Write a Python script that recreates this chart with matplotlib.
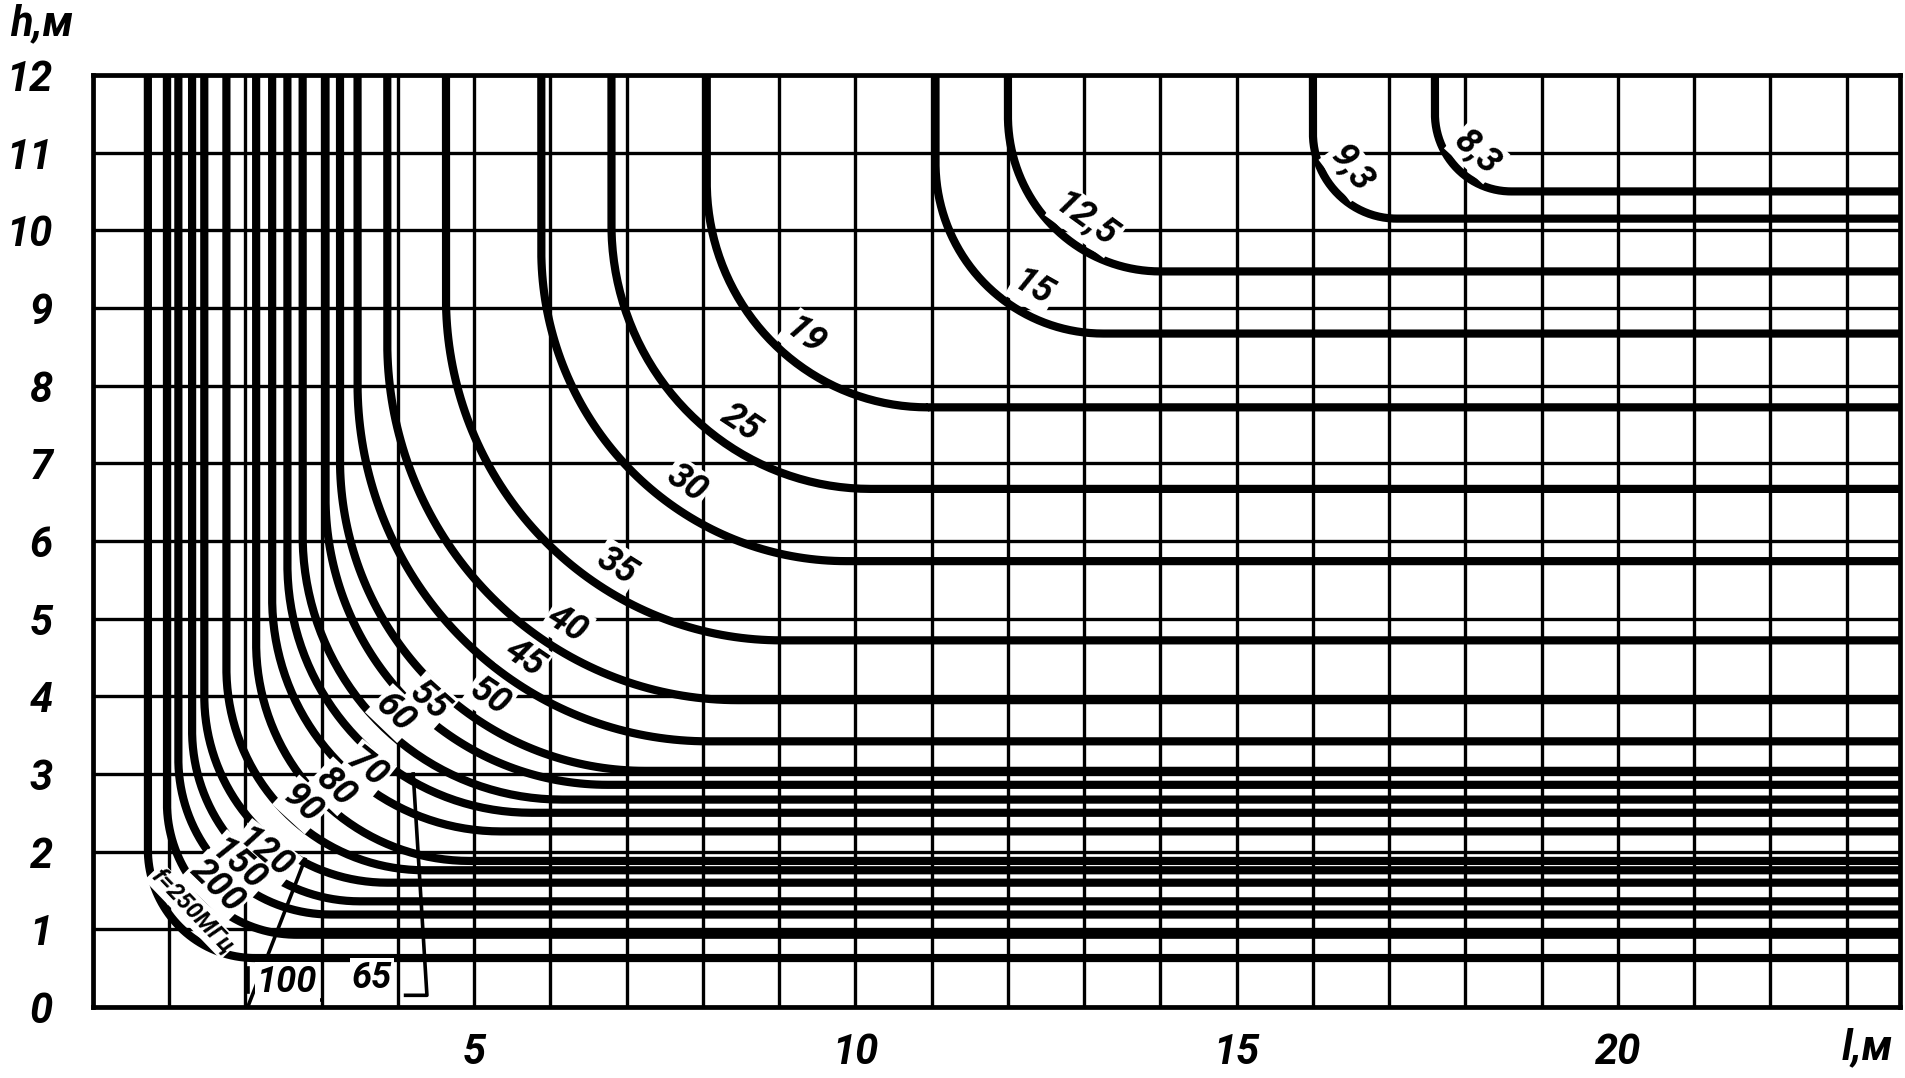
import numpy as np
import matplotlib
matplotlib.use("Agg")
import matplotlib.pyplot as plt

# ── Data ─────────────────────────────────────────────────────────────────────
# one curve per frequency: vertical asymptote l (m), horizontal asymptote h (m),
# bend radius of the rounded corner (m)
freq_labels = ["8,3", "9,3", "12,5", "15", "19", "25", "30", "35", "40", "45", "50",
               "55", "60", "65", "70", "80", "90", "100", "120", "150", "200",
               "f=250МГц"]
l_vert = [17.6, 16.0, 12.0, 11.05, 8.05, 6.80, 5.88, 4.63, 3.86, 3.47, 3.24,
          3.05, 2.75, 2.55, 2.35, 2.14, 1.75, 1.46, 1.30, 1.12, 0.97, 0.72]
h_horiz = [10.50, 10.15, 9.47, 8.67, 7.72, 6.67, 5.74, 4.72, 3.95, 3.42, 3.04,
           2.86, 2.67, 2.50, 2.26, 1.88, 1.76, 1.60, 1.36, 1.19, 0.93, 0.63]
bend_r = [1.0, 1.1, 2.0, 2.2, 2.9, 3.4, 4.0, 4.4, 4.6, 4.6, 4.0,
          3.7, 3.4, 3.2, 3.0, 2.8, 2.6, 2.4, 2.2, 2.0, 1.7, 1.4]

x_ticks = [5, 10, 15, 20]
y_ticks = list(range(0, 13))

# approximate label spots (x, y); None -> label written below the curves
label_pos = [
    (18.16, 11.02), (16.48, 10.78), (13.05, 10.16), (12.34, 9.26),
    (9.31, 8.59), (8.54, 7.57), (7.79, 6.74), (6.95, 5.80),
    (6.28, 5.02), (5.75, 4.62), (5.19, 3.97), (4.30, 3.82),
    (3.90, 3.72), None, (3.56, 3.03), (3.08, 2.74),
    (2.69, 2.55), None, (2.29, 2.01), (1.81, 1.72),
    (1.57, 1.50), (1.30, 1.24),
]
# labels placed under the curves with a leader line
bottom_labels = {"65": (3.66, 0.37), "100": (2.55, 0.32)}

XMAX, YMAX = 23.7, 12.0
FONT = dict(family=["Roboto", "DejaVu Sans"], style="italic", weight="bold")


def curve_path(a, b, r, n=80):
    t = np.linspace(0.0, np.pi / 2, n)
    xs = np.concatenate([np.full(n, a), a + r - r * np.cos(t), np.linspace(a + r, XMAX, n)])
    ys = np.concatenate([np.linspace(YMAX, b + r, n), b + r - r * np.sin(t), np.full(n, b)])
    return xs, ys


def snap_label(i, px, py, cap=0.34):
    """Move a label radially just inside curve i (mid-gap when the gap is narrow)."""
    a, b, r = l_vert[i], h_horiz[i], bend_r[i]
    cx, cy = a + r, b + r
    th = np.arctan2(py - cy, px - cx) % (2 * np.pi)
    th = np.clip(th, np.pi, 1.5 * np.pi)
    u = np.array([np.cos(th), np.sin(th)])
    p0 = np.array([cx, cy]) + r * u
    inset = cap
    if i > 0:
        qx, qy = curve_path(l_vert[i - 1], h_horiz[i - 1], bend_r[i - 1], n=600)
        v = np.stack([qx, qy], axis=1) - p0
        s = v @ (-u)
        perp = np.abs(v[:, 0] * u[1] - v[:, 1] * u[0])
        perp[s <= 0] = np.inf
        inset = min(0.5 * s[np.argmin(perp)], cap)
    return p0 - inset * u, np.degrees(th) - 270


fig = plt.figure(figsize=(19.05, 10.78), dpi=100)
ax = fig.add_axes([0.0488, 0.0659, 0.9486, 0.8646])
ax.set_xlim(0, XMAX)
ax.set_ylim(0, YMAX)

# grid every metre
ax.set_xticks(np.arange(0, 24), minor=True)
ax.set_yticks(y_ticks)
ax.set_xticks(x_ticks)
ax.grid(which="both", color="black", linewidth=2.4, zorder=1)
ax.set_axisbelow(True)
for spine in ax.spines.values():
    spine.set_linewidth(3.4)

ax.tick_params(which="both", length=0)
ax.tick_params(axis="y", pad=29)
ax.tick_params(axis="x", pad=18)
tick_font = dict(FONT, size=30)
ax.set_yticklabels([str(v) for v in y_ticks], fontdict=tick_font)
ax.set_xticklabels([str(v) for v in x_ticks], fontdict=tick_font)

for a, b, r in zip(l_vert, h_horiz, bend_r):
    xs, ys = curve_path(a, b, r)
    ax.plot(xs, ys, color="black", linewidth=5.9, solid_capstyle="butt",
            solid_joinstyle="round", zorder=3)

box = dict(boxstyle="square,pad=0.06", fc="white", ec="none")
for i, (lab, pos) in enumerate(zip(freq_labels, label_pos)):
    if pos is None:
        continue
    small = lab.startswith("f=")
    (x, y), rot = snap_label(i, *pos, cap=0.26 if small else 0.34)
    ax.text(x, y, lab, rotation=rot, rotation_mode="anchor", ha="center", va="center",
            fontsize=17 if small else 26, bbox=box, zorder=5, **FONT)

for lab, (x, y) in bottom_labels.items():
    ax.text(x, y, lab, ha="center", va="center", fontsize=26, bbox=box, zorder=5, **FONT)

# leader lines and underlines of the bottom labels
lk = dict(color="black", linewidth=2.6, zorder=4)
ax.plot([2.03, 2.78], [0.0, 1.90], **lk)
ax.plot([2.03, 2.03], [0.19, 0.50], **lk)
ax.plot([2.15, 2.98], [0.09, 0.09], **lk)
ax.plot([3.46, 3.90], [0.22, 0.22], **lk)
ax.plot([4.20, 4.38, 4.10], [3.00, 0.15, 0.15], **lk)

fig.text(42 / 1905, 1 - 24 / 1078, "h,м", fontsize=30, ha="center", va="center", **FONT)
fig.text(1867 / 1905, 1 - 1048 / 1078, "l,м", fontsize=30, ha="center", va="center", **FONT)

fig.savefig("out.png", dpi=100, facecolor="white")
